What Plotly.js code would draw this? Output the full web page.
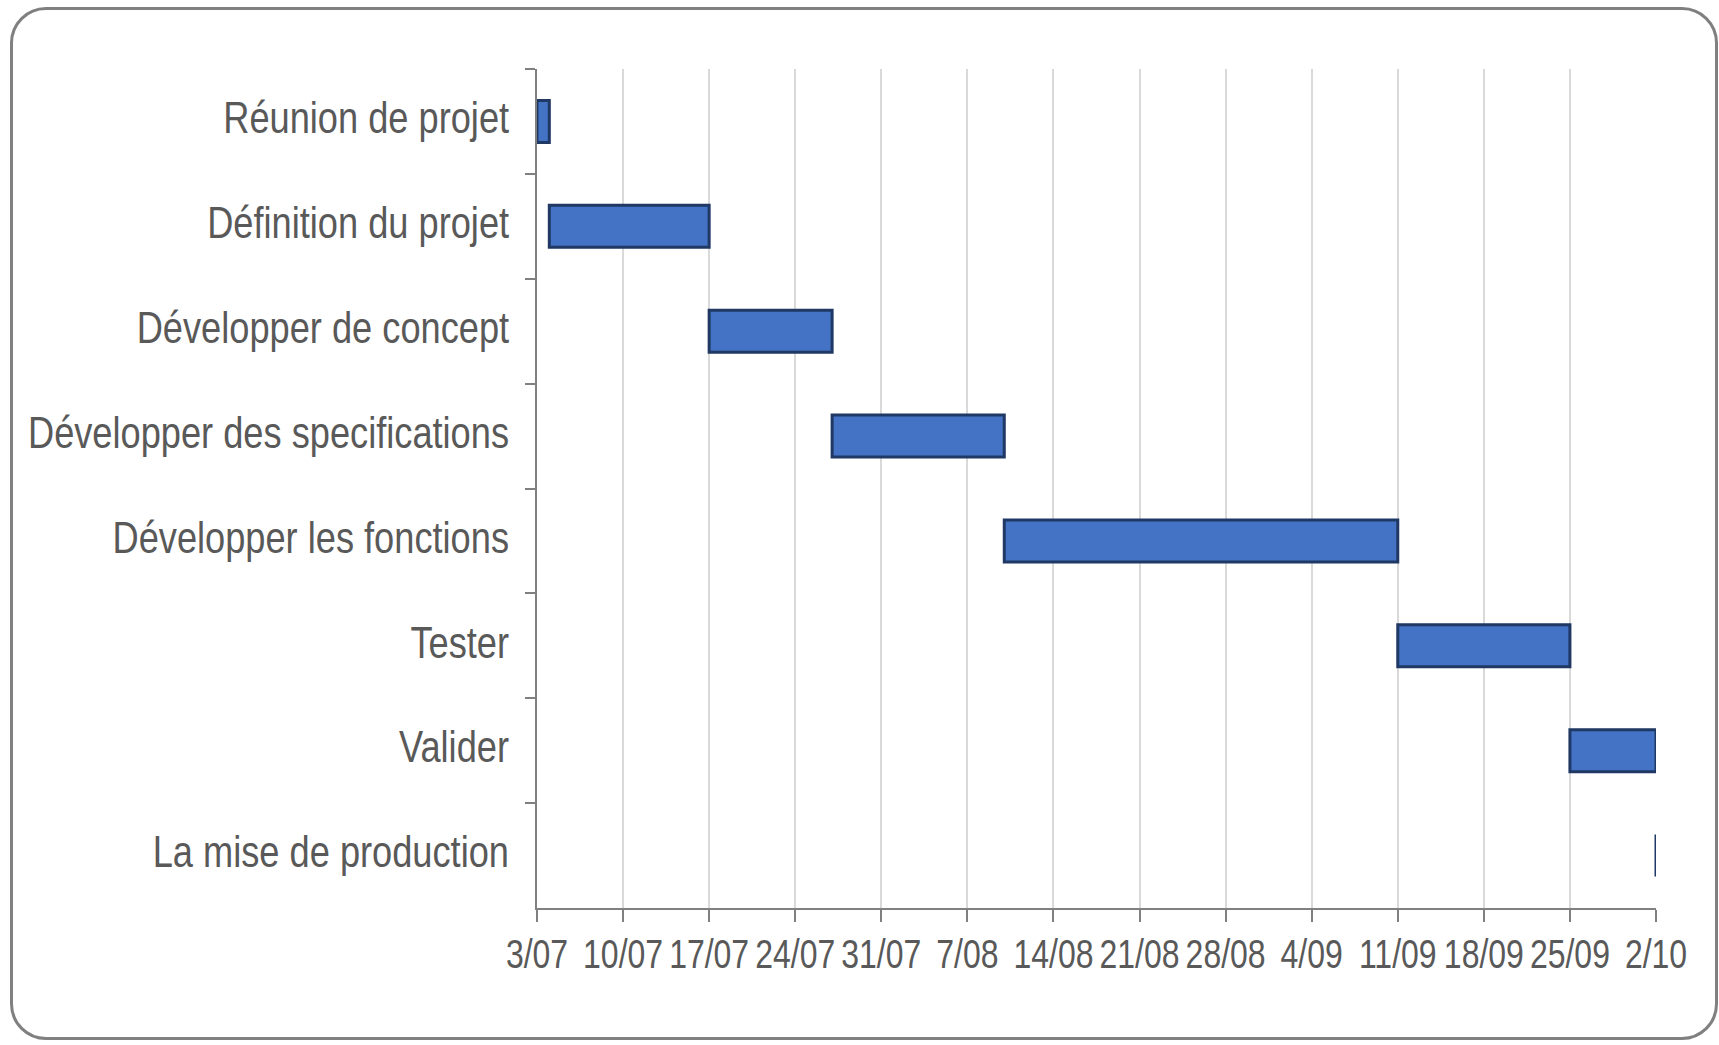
<!DOCTYPE html>
<html>
<head>
<meta charset="utf-8">
<script src="https://cdn.plot.ly/plotly-3.0.1.min.js"></script>
<style>
  html, body { margin: 0; padding: 0; background: #ffffff; }
  #wrap { position: relative; width: 1719px; height: 1045px; overflow: hidden; }
  #frame { position: absolute; left: 10px; top: 7px; width: 1702px; height: 1027px;
           border: 3px solid #808080; border-radius: 36px; box-sizing: content-box; }
  #chart { position: absolute; left: 0; top: 0; width: 1719px; height: 1045px; }
</style>
</head>
<body>
<div id="wrap">
  <div id="frame"></div>
  <div id="chart"></div>
</div>
<script>
// ---- data ----
const tasks = [
  "Réunion de projet",
  "Définition du projet",
  "Développer de concept",
  "Développer des specifications",
  "Développer les fonctions",
  "Tester",
  "Valider",
  "La mise de production"
];
const startDates = ["2023-07-03", "2023-07-04", "2023-07-17", "2023-07-27",
                    "2023-08-10", "2023-09-11", "2023-09-25", "2023-10-02"];
const durationDays = [1, 13, 10, 14, 32, 14, 7, 0];
const axisStart = "2023-07-03";
const axisEnd = "2023-10-02";
const tickStepDays = 7;

const DAY = 86400000;

const trace = {
  type: "bar",
  orientation: "h",
  y: tasks,
  base: startDates,
  x: durationDays.map(d => d * DAY),
  width: 0.4,
  marker: { color: "#4472C4", line: { color: "#203864", width: 3 } },
  hoverinfo: "y",
  showlegend: false
};

const fontFam = "'Liberation Sans', Arial, sans-serif";
const NARROW_Y = 0.805;
const NARROW_X = 0.78;

const layout = {
  width: 1719,
  height: 1045,
  margin: { l: 537, r: 63, t: 69, b: 137, pad: 0 },
  paper_bgcolor: "rgba(0,0,0,0)",
  plot_bgcolor: "rgba(0,0,0,0)",
  font: { family: fontFam, color: "#595959" },
  xaxis: {
    type: "date",
    range: [axisStart, axisEnd],
    tickmode: "linear",
    tick0: axisStart,
    dtick: tickStepDays * DAY,
    tickformat: "%-d/%m",
    tickangle: 0,
    showgrid: true,
    gridcolor: "#D9D9D9",
    gridwidth: 2,
    showline: true,
    linecolor: "#808080",
    linewidth: 2,
    ticks: "outside",
    ticklen: 12,
    tickwidth: 2,
    tickcolor: "#808080",
    tickfont: { family: fontFam, size: 41, color: "#595959" },
    ticklabelstandoff: 4,
    zeroline: false,
    fixedrange: true
  },
  yaxis: {
    type: "category",
    categoryorder: "array",
    categoryarray: tasks,
    autorange: "reversed",
    showgrid: false,
    showline: true,
    linecolor: "#808080",
    linewidth: 2,
    ticks: "outside",
    tickson: "boundaries",
    ticklen: 10,
    tickwidth: 2,
    tickcolor: "#808080",
    tickfont: { family: fontFam, size: 45, color: "#595959" },
    ticklabelstandoff: 17,
    zeroline: false,
    fixedrange: true
  }
};

function narrowText(gd) {
  // condensed look of the original labels: squeeze text horizontally around its anchor
  gd.querySelectorAll(".ytick text").forEach(t => {
    const b = t.getBBox();
    const ax = b.x + b.width;
    const tr = t.getAttribute("transform") || "";
    t.setAttribute("transform", tr + ` translate(0,-4) translate(${ax},0) scale(${NARROW_Y},1) translate(${-ax},0)`);
  });
  gd.querySelectorAll(".xtick text").forEach(t => {
    const b = t.getBBox();
    const ax = b.x + b.width / 2;
    const tr = t.getAttribute("transform") || "";
    t.setAttribute("transform", tr + ` translate(0,-7) translate(${ax},0) scale(${NARROW_X},1) translate(${-ax},0)`);
  });
}

Plotly.newPlot("chart", [trace], layout, { displayModeBar: false, staticPlot: true })
  .then(gd => narrowText(gd));
</script>
</body>
</html>
